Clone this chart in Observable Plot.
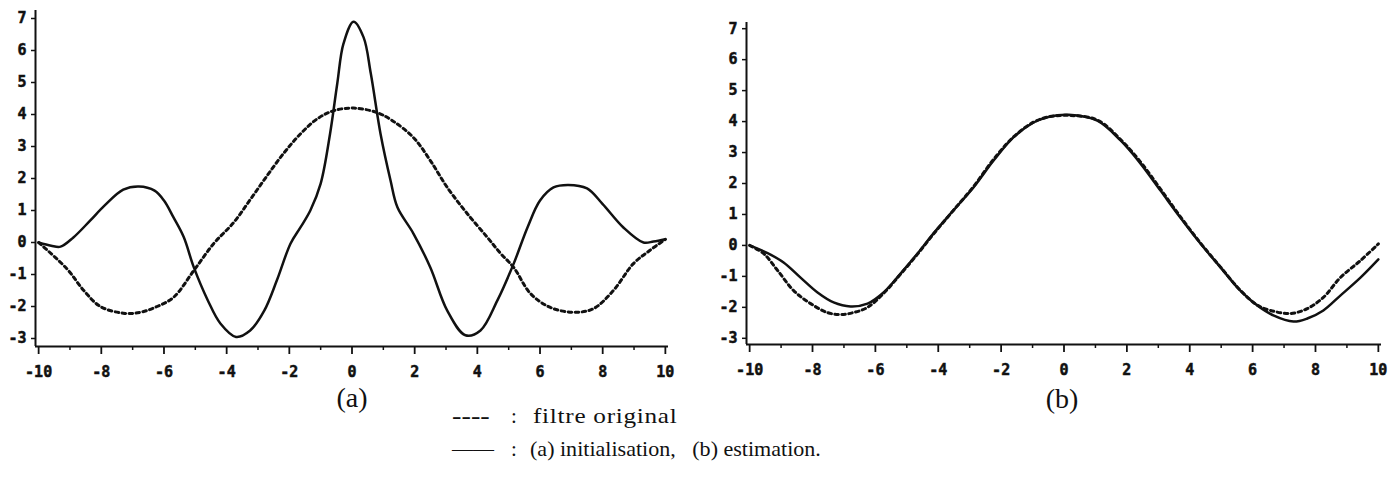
<!DOCTYPE html>
<html><head><meta charset="utf-8">
<script src="https://cdn.jsdelivr.net/npm/d3@7"></script>
<script src="https://cdn.jsdelivr.net/npm/@observablehq/plot@0.6"></script>
<style>
html,body{margin:0;padding:0;background:#fff;}
#wrap{position:relative;width:1394px;height:478px;overflow:hidden;background:#fff;}
.panel{position:absolute;top:0;}
.panel text{font-weight:700 !important;font-family:"DejaVu Sans Mono",monospace;font-size:15px;fill:#111;stroke:#111;stroke-width:0.5px;}
.cap{position:absolute;font-family:"Liberation Serif",serif;font-size:28px;color:#111;transform:translate(-50%,-50%);white-space:nowrap;line-height:1;}
.leg{position:absolute;font-family:"Liberation Serif",serif;font-size:21px;color:#111;white-space:nowrap;line-height:1;transform-origin:left center;}
</style></head><body><div id="wrap"></div>
<script>
// ---- data ----
const xDomain = [-10.1, 10.1];
const xMajorTicks = [-10, -8, -6, -4, -2, 0, 2, 4, 6, 8, 10];
const xMinorTicks = [-9, -7, -5, -3, -1, 1, 3, 5, 7, 9];
const yTicks = [-3, -2, -1, 0, 1, 2, 3, 4, 5, 6, 7];
const yDomainA = [-3.25, 7.25];
const yDomainB = [-3.2, 7.2];

// panel (a): solid = initialisation
const solidAx = [-10, -9.6, -9.3, -8.9, -8.35, -7.9, -7.3, -6.8, -6.3, -6.0, -5.7, -5.37, -5.05, -4.6, -4.2, -3.7, -3.25, -2.8, -2.4, -1.96, -1.64, -1.33, -1.0, -0.7, -0.47, -0.27, 0.05, 0.37, 0.6, 0.91, 1.23, 1.45, 1.96, 2.5, 3.04, 3.62, 4.1, 4.64, 5.16, 5.6, 6.0, 6.43, 6.9, 7.5, 8.0, 8.66, 9.3, 9.62, 10];
const solidAy = [0, -0.1, -0.13, 0.15, 0.69, 1.15, 1.65, 1.75, 1.62, 1.31, 0.79, 0.17, -0.77, -1.81, -2.53, -2.95, -2.75, -2.13, -1.19, -0.03, 0.48, 1.0, 1.84, 3.4, 4.97, 6.22, 6.9, 6.41, 5.28, 3.4, 1.94, 1.1, 0.28, -0.78, -2.13, -2.9, -2.75, -1.81, -0.66, 0.47, 1.31, 1.72, 1.8, 1.69, 1.2, 0.47, 0.0, 0.03, 0.1];
// panel (a): dashed = filtre original
const dashedAx = [-10, -9.1, -8.56, -8.03, -7.3, -6.75, -6.22, -5.69, -5.05, -4.41, -3.78, -3.24, -2.7, -2.17, -1.64, -1.1, -0.58, 0.05, 0.8, 1.3, 1.96, 2.5, 3.04, 3.68, 4.32, 4.74, 5.16, 5.7, 6.33, 7.07, 7.7, 8.34, 8.98, 9.5, 10];
const dashedAy = [0, -0.82, -1.5, -2.0, -2.21, -2.18, -2.0, -1.71, -0.88, -0.03, 0.62, 1.35, 2.1, 2.8, 3.4, 3.87, 4.12, 4.2, 4.06, 3.8, 3.28, 2.56, 1.72, 0.9, 0.16, -0.34, -0.78, -1.6, -2.03, -2.18, -2.07, -1.5, -0.66, -0.25, 0.1];

// panel (b): solid = estimation
const solidBx = [-10, -9.43, -8.92, -8.38, -7.84, -7.33, -6.79, -6.25, -5.74, -5.2, -4.66, -4.15, -3.52, -2.88, -2.24, -1.61, -0.97, -0.5, 0.15, 1.06, 1.8, 2.43, 3.07, 3.7, 4.34, 4.98, 5.61, 6.15, 6.66, 7.3, 7.74, 8.25, 8.79, 9.43, 10];
const solidBy = [0, -0.25, -0.55, -1.04, -1.52, -1.84, -1.97, -1.88, -1.52, -0.91, -0.26, 0.39, 1.13, 1.87, 2.74, 3.49, 3.97, 4.15, 4.22, 4.03, 3.39, 2.65, 1.77, 0.9, 0.06, -0.71, -1.46, -1.94, -2.26, -2.46, -2.36, -2.1, -1.62, -1.04, -0.45];
// panel (b): dashed = filtre original
const dashedBx = [-10, -9.56, -9.11, -8.6, -8.06, -7.52, -7.11, -6.7, -6.25, -5.74, -5.2, -4.66, -4.15, -3.52, -2.88, -2.24, -1.61, -0.97, -0.5, 0.15, 1.06, 1.8, 2.43, 3.07, 3.7, 4.34, 4.98, 5.61, 6.15, 6.57, 7.2, 7.74, 8.25, 8.79, 9.43, 10];
const dashedBy = [0, -0.26, -0.81, -1.46, -1.88, -2.17, -2.23, -2.17, -2.0, -1.55, -0.93, -0.28, 0.37, 1.13, 1.9, 2.78, 3.5, 3.98, 4.15, 4.2, 4.05, 3.42, 2.7, 1.82, 0.93, 0.08, -0.7, -1.45, -1.93, -2.1, -2.2, -2.04, -1.68, -1.04, -0.49, 0.05];

const captions = ["(a)", "(b)"];
const legendSymbols = ["----", "——"];
const legendTexts = ["filtre original", "(a) initialisation,\u00a0\u00a0 (b) estimation."];

// ---- drawing ----
const zip = (xs, ys) => xs.map((x, i) => ({x, y: ys[i]}));
const wrap = document.getElementById("wrap");

function panel(opts) {
  const {solid, dashed, yDomain, width, height, ml, mr, mt, mb} = opts;
  return Plot.plot({
    width, height,
    marginLeft: ml, marginRight: mr, marginTop: mt, marginBottom: mb,
    x: {domain: xDomain},
    y: {domain: yDomain},
    style: {fontFamily: "DejaVu Sans Mono", fontSize: "15px", fontWeight: "bold", color: "#111", background: "transparent", overflow: "visible"},
    marks: [
      Plot.axisY(yTicks, {tickSize: 4, tickPadding: 5, label: null, tickFormat: d => String(d), strokeWidth: 1.5}),
      Plot.axisX(xMinorTicks, {tickSize: 4, tickFormat: () => "", label: null, strokeWidth: 1.5}),
      Plot.axisX(xMajorTicks, {tickSize: 8, tickPadding: 12, label: null, tickFormat: d => String(d), strokeWidth: 1.8}),
      Plot.ruleX([xDomain[0]], {stroke: "#111", strokeWidth: 2}),
      Plot.ruleY([yDomain[0]], {stroke: "#111", strokeWidth: 2}),
      Plot.line(dashed, {x: "x", y: "y", curve: "catmull-rom", stroke: "#111", strokeWidth: 3, strokeDasharray: "3.5,3.5"}),
      Plot.line(solid, {x: "x", y: "y", curve: "catmull-rom", stroke: "#111", strokeWidth: 2.5})
    ]
  });
}

const pa = panel({solid: zip(solidAx, solidAy), dashed: zip(dashedAx, dashedAy), yDomain: yDomainA, width: 700, height: 390, ml: 35, mr: 32, mt: 10, mb: 44});
pa.classList.add("panel"); pa.style.left = "0px";
wrap.appendChild(pa);
const pb = panel({solid: zip(solidBx, solidBy), dashed: zip(dashedBx, dashedBy), yDomain: yDomainB, width: 694, height: 390, ml: 46, mr: 13, mt: 22, mb: 46});
pb.classList.add("panel"); pb.style.left = "700px";
wrap.appendChild(pb);

// captions
[[352, 398], [1062, 399]].forEach(([cx, cy], i) => {
  const d = document.createElement("div");
  d.className = "cap"; d.textContent = captions[i];
  d.style.left = cx + "px"; d.style.top = cy + "px";
  wrap.appendChild(d);
});

// legend
const rowY = [416, 449];
function legEl(text, left, top, transform, extra) {
  const s = document.createElement("div");
  s.className = "leg"; s.textContent = text;
  s.style.left = left + "px"; s.style.top = top + "px";
  s.style.transform = transform;
  Object.assign(s.style, extra || {});
  wrap.appendChild(s);
}
legEl(legendSymbols[0], 452, rowY[0], "translateY(-50%) scaleX(1.35)", {fontWeight: "bold"});
legEl(legendSymbols[1], 452, rowY[1], "translateY(-50%)", {});
legEl(":", 511, rowY[0], "translateY(-50%)", {});
legEl(":", 511, rowY[1], "translateY(-50%)", {});
legEl(legendTexts[0], 533, rowY[0], "translateY(-50%) scaleX(1.2)", {letterSpacing: "0.6px"});
legEl(legendTexts[1], 530, rowY[1], "translateY(-50%) scaleX(1.05)", {});
</script></body></html>
